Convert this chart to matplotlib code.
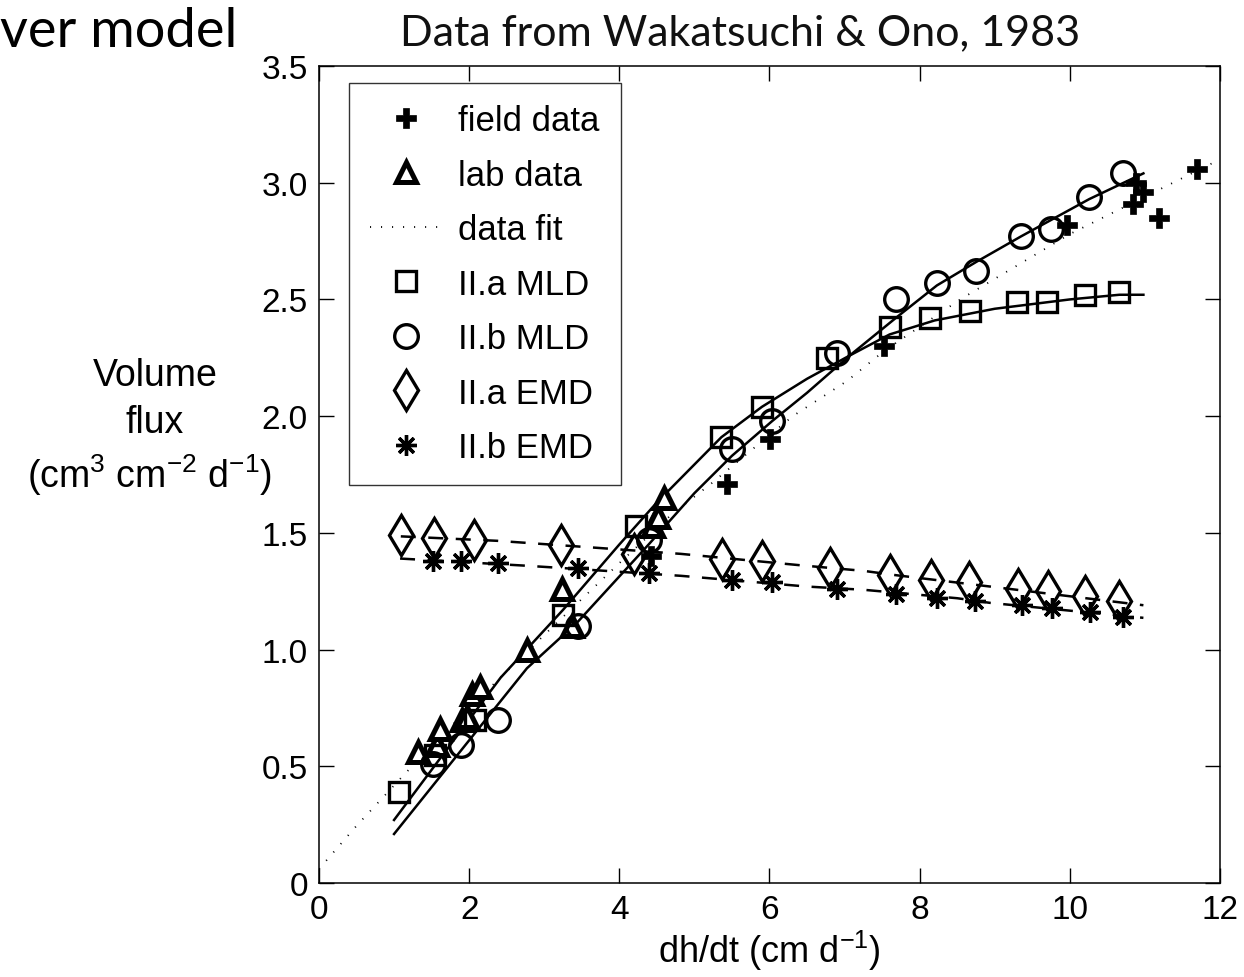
import matplotlib
matplotlib.use("Agg")
import matplotlib.pyplot as plt

plt.rcParams['font.family'] = ['Liberation Sans', 'DejaVu Sans']
plt.rcParams['mathtext.fontset'] = 'custom'
plt.rcParams['mathtext.rm'] = 'Liberation Sans'

# field data (Wakatsuchi & Ono 1983)
field_x = [4.42, 5.44, 6.01, 7.53, 9.96, 10.88, 10.97, 10.84, 11.19, 11.69]
field_y = [1.40, 1.71, 1.90, 2.30, 2.82, 3.00, 2.96, 2.91, 2.85, 3.06]

# lab data
lab_x = [1.32, 1.57, 1.61, 1.90, 1.97, 2.04, 2.14, 2.77, 3.24, 3.37, 4.45, 4.52, 4.60]
lab_y = [0.56, 0.59, 0.66, 0.70, 0.71, 0.81, 0.84, 1.00, 1.26, 1.10, 1.53, 1.57, 1.65]

# data fit (dotted)
fit_x = [0.0, 0.5, 1.15, 2.0, 3.12, 4.0, 4.7, 5.22, 5.78, 6.31, 7.03, 7.53, 8.54, 10.0, 11.0, 12.0]
fit_y = [0.06, 0.245, 0.47, 0.75, 1.10, 1.37, 1.58, 1.71, 1.86, 2.00, 2.15, 2.28, 2.50, 2.78, 2.94, 3.10]

# II.a MLD
mlda_x = [1.07, 1.55, 2.08, 3.25, 4.22, 5.36, 5.90, 6.77, 7.60, 8.14, 8.67, 9.29, 9.69, 10.20, 10.66]
mlda_y = [0.39, 0.55, 0.70, 1.15, 1.53, 1.91, 2.04, 2.25, 2.38, 2.42, 2.45, 2.49, 2.49, 2.52, 2.53]
mlda_line_x = [1.0, 2.42, 3.25, 4.0, 4.5, 5.36, 5.9, 6.5, 7.07, 7.6, 8.2, 9.0, 10.0, 10.66, 10.98]
mlda_line_y = [0.27, 0.88, 1.17, 1.45, 1.63, 1.91, 2.04, 2.16, 2.26, 2.35, 2.41, 2.46, 2.50, 2.52, 2.52]

# II.b MLD
mldb_x = [1.52, 1.89, 2.38, 3.45, 4.39, 5.50, 6.04, 6.90, 7.68, 8.23, 8.75, 9.35, 9.75, 10.26, 10.71]
mldb_y = [0.51, 0.59, 0.70, 1.10, 1.47, 1.86, 1.98, 2.27, 2.50, 2.57, 2.62, 2.77, 2.80, 2.94, 3.04]
mldb_line_x = [1.0, 2.77, 3.45, 4.39, 5.0, 5.5, 6.04, 6.5, 7.07, 7.68, 8.23, 8.75, 9.35, 10.26, 10.98]
mldb_line_y = [0.21, 0.92, 1.12, 1.45, 1.67, 1.83, 1.98, 2.10, 2.26, 2.42, 2.56, 2.66, 2.77, 2.93, 3.04]

# II.a EMD
emda_x = [1.09, 1.53, 2.07, 3.22, 4.19, 5.37, 5.90, 6.80, 7.60, 8.15, 8.66, 9.31, 9.71, 10.20, 10.66]
emda_y = [1.49, 1.48, 1.47, 1.45, 1.41, 1.39, 1.38, 1.35, 1.32, 1.30, 1.29, 1.26, 1.25, 1.23, 1.21]
emda_line_x = [1.09, 2.37, 3.7, 4.82, 6.45, 7.26, 7.65, 8.94, 10.98]
emda_line_y = [1.485, 1.466, 1.436, 1.41, 1.36, 1.337, 1.32, 1.27, 1.19]

# II.b EMD
emdb_x = [1.52, 1.89, 2.38, 3.45, 4.39, 5.50, 6.04, 6.90, 7.68, 8.23, 8.74, 9.36, 9.76, 10.27, 10.71]
emdb_y = [1.38, 1.38, 1.37, 1.35, 1.33, 1.30, 1.29, 1.26, 1.24, 1.22, 1.21, 1.19, 1.18, 1.16, 1.14]
emdb_line_x = [1.08, 2.72, 3.21, 4.82, 6.5, 7.26, 8.5, 8.94, 10.98]
emdb_line_y = [1.39, 1.36, 1.35, 1.316, 1.27, 1.256, 1.22, 1.20, 1.136]

x_ticks = [0, 2, 4, 6, 8, 10, 12]
y_ticks = [0, 0.5, 1.0, 1.5, 2.0, 2.5, 3.0, 3.5]
y_ticklabels = ['0', '0.5', '1.0', '1.5', '2.0', '2.5', '3.0', '3.5']
ylabel_lines = ['Volume', 'flux', '(cm$^3$ cm$^{-2}$ d$^{-1}$)']

fig = plt.figure(figsize=(12.44, 9.78), dpi=100)
ax = fig.add_axes([0.2564, 0.0961, 0.7243, 0.8354])

mew = 2.4
dots = (0, (0.6, 5.5))
fs = 24

# fitted curves
ax.plot(fit_x, fit_y, color='k', lw=1.3, linestyle=dots)
ax.plot(mlda_line_x, mlda_line_y, color='k', lw=1.8)
ax.plot(mldb_line_x, mldb_line_y, color='k', lw=1.8)
ax.plot(emda_line_x, emda_line_y, color='k', lw=1.8, dashes=(6, 5))
ax.plot(emdb_line_x, emdb_line_y, color='k', lw=1.8, dashes=(6, 5))

# markers
ax.plot(field_x, field_y, 'P', color='k', ms=14, mec='k', mfc='k', mew=0.5,
        linestyle='none', label='field data')
ax.plot(lab_x, lab_y, '^', ms=15, mec='k', mfc='white', mew=3.6,
        linestyle='none', label='lab data')
ax.plot([], [], color='k', lw=1.3, linestyle=dots, label='data fit')
ax.plot(mlda_x, mlda_y, 's', ms=14, mec='k', mfc='none', mew=mew,
        linestyle='none', label='II.a MLD')
ax.plot(mldb_x, mldb_y, 'o', ms=17, mec='k', mfc='none', mew=mew,
        linestyle='none', label='II.b MLD')
ax.plot(emda_x, emda_y, 'd', ms=20, mec='k', mfc='none', mew=mew,
        linestyle='none', label='II.a EMD')
ax.plot(emdb_x, emdb_y, marker=(8, 2, 0), ms=15, mec='k', mew=mew,
        linestyle='none', color='k', label='II.b EMD')

ax.set_xlim(0, 12)
ax.set_ylim(0, 3.5)
ax.set_xticks(x_ticks)
ax.set_yticks(y_ticks)
ax.set_yticklabels(y_ticklabels)
ax.tick_params(direction='in', length=11, width=1, labelsize=fs,
               top=True, right=True, pad=8)
for s in ax.spines.values():
    s.set_linewidth(1.1)

ax.set_xlabel('dh/dt (cm d$^{-1}$)', fontsize=26, labelpad=2)

# horizontal three-line y label, one text per line
for txt, xx, yy in zip(ylabel_lines, [0.125, 0.124, 0.120], [0.6053, 0.5573, 0.5010]):
    fig.text(xx, yy, txt, fontsize=27, ha='center', va='baseline')

leg = ax.legend(loc='upper left', bbox_to_anchor=(0.0333, 0.979),
                borderaxespad=0, fontsize=25, frameon=True, fancybox=False,
                edgecolor='k', handlelength=2.1, handletextpad=0.45,
                labelspacing=0.62, borderpad=0.6, numpoints=1)
leg.get_frame().set_linewidth(1.0)

fig.text(0.0, 0.968, 'ver model', fontsize=39, fontfamily='Lato',
         ha='left', va='center')
fig.text(0.595, 0.966, 'Data from Wakatsuchi & Ono, 1983', fontsize=31,
         fontfamily='Lato', color='#111111', ha='center', va='center')

fig.savefig('out.png', dpi=100)
